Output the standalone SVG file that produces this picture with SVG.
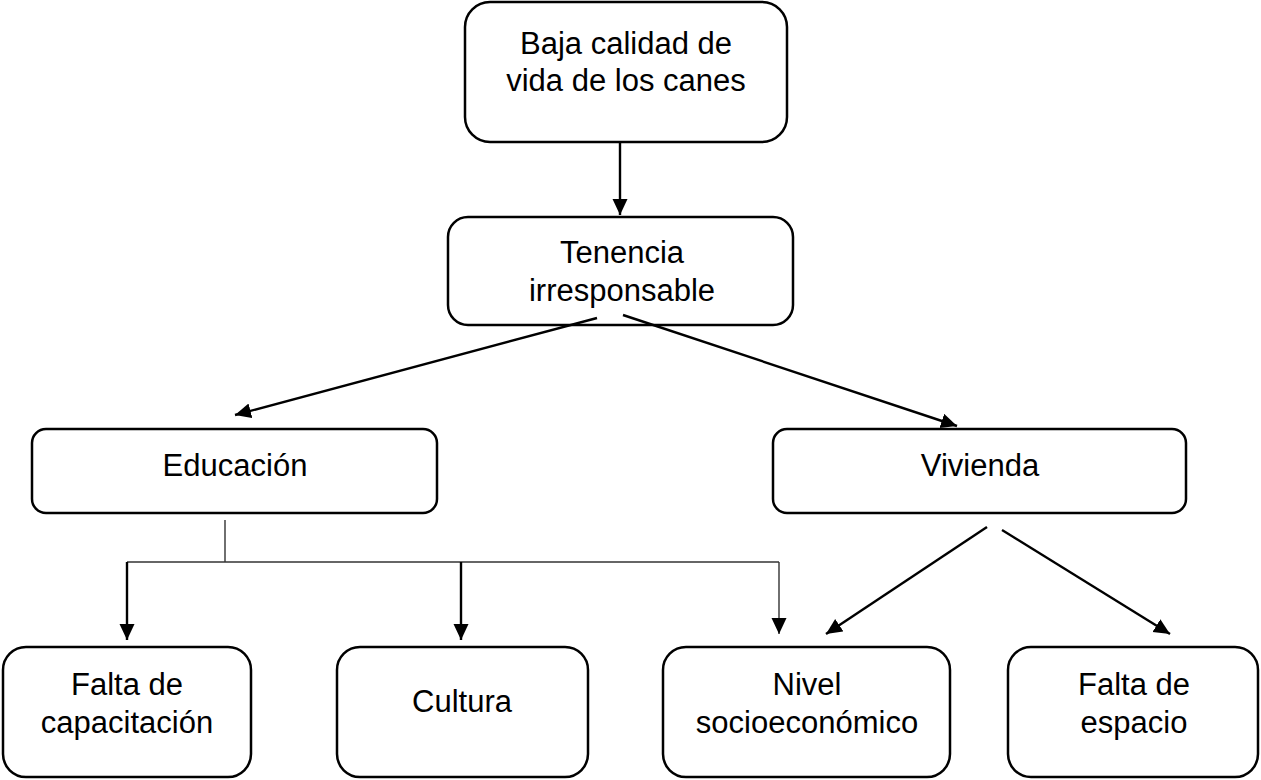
<svg xmlns="http://www.w3.org/2000/svg" width="1261" height="780" viewBox="0 0 1261 780">
<style>
.box{fill:#fff;stroke:#000;stroke-width:2.5}
.t{font-family:"Liberation Sans",Arial,sans-serif;font-size:31px;fill:#000;text-anchor:middle}
.c{stroke:#000;stroke-width:2.4;fill:none}
.thin{stroke:#333;stroke-width:1.4;fill:none}
</style>
<defs>
<marker id="ah" markerUnits="userSpaceOnUse" markerWidth="18" markerHeight="16" refX="16" refY="7.5" orient="auto">
<path d="M0,0 L16,7.5 L0,15 z" fill="#000"/>
</marker>
</defs>
<rect width="1261" height="780" fill="#fff"/>
<g id="n1">
<rect class="box" x="465" y="2" width="322" height="140" rx="25"/>
<text class="t" x="626" y="54">Baja calidad de</text>
<text class="t" x="626" y="91">vida de los canes</text>
</g>
<g id="n2">
<rect class="box" x="448" y="217" width="345" height="108" rx="20"/>
<text class="t" x="622" y="263">Tenencia</text>
<text class="t" x="622" y="301">irresponsable</text>
</g>
<g id="n3">
<rect class="box" x="32" y="429" width="405" height="84" rx="14"/>
<text class="t" x="235" y="476">Educación</text>
</g>
<g id="n4">
<rect class="box" x="773" y="429" width="413" height="84" rx="14"/>
<text class="t" x="980" y="476">Vivienda</text>
</g>
<g id="n5">
<rect class="box" x="3" y="647" width="248" height="130" rx="23"/>
<text class="t" x="127" y="695">Falta de</text>
<text class="t" x="127" y="733">capacitación</text>
</g>
<g id="n6">
<rect class="box" x="337" y="647" width="251" height="130" rx="23"/>
<text class="t" x="462" y="712">Cultura</text>
</g>
<g id="n7">
<rect class="box" x="663" y="647" width="287" height="130" rx="23"/>
<text class="t" x="807" y="695">Nivel</text>
<text class="t" x="807" y="733">socioeconómico</text>
</g>
<g id="n8">
<rect class="box" x="1008" y="647" width="250" height="130" rx="23"/>
<text class="t" x="1134" y="695">Falta de</text>
<text class="t" x="1134" y="733">espacio</text>
</g>
<g id="connectors">
<line class="c" x1="620" y1="142" x2="620" y2="215" marker-end="url(#ah)"/>
<line class="c" x1="597" y1="318" x2="235" y2="415" marker-end="url(#ah)"/>
<line class="c" x1="623" y1="315" x2="957" y2="426" marker-end="url(#ah)"/>
<line class="thin" x1="225" y1="520" x2="225" y2="562"/>
<line class="thin" x1="127" y1="562" x2="779" y2="562"/>
<line class="c" x1="127" y1="562" x2="127" y2="640" marker-end="url(#ah)"/>
<line class="c" x1="461" y1="562" x2="461" y2="640" marker-end="url(#ah)"/>
<line class="thin" x1="779" y1="562" x2="779" y2="634" marker-end="url(#ah)"/>
<line class="c" x1="987" y1="527" x2="826" y2="634" marker-end="url(#ah)"/>
<line class="c" x1="1002" y1="530" x2="1170" y2="634" marker-end="url(#ah)"/>
</g>
</svg>
